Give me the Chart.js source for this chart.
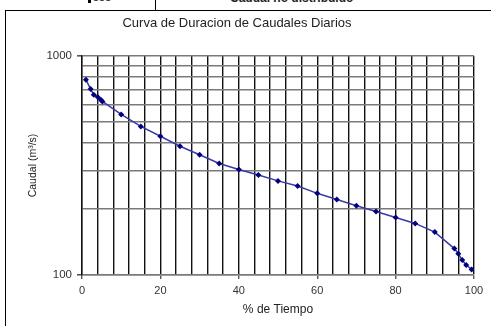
<!DOCTYPE html>
<html>
<head>
<meta charset="utf-8">
<script src="https://cdn.jsdelivr.net/npm/chart.js@4"></script>
<style>
  html, body { margin: 0; padding: 0; background: #fff; }
  #wrap { position: relative; width: 491px; height: 326px; overflow: hidden; font-family: "Liberation Sans", Arial, sans-serif; }
  #frame { position: absolute; left: 5px; top: 10px; width: 600px; height: 400px; border-left: 1.5px solid #000; border-top: 1.5px solid #000; }
  #cell { position: absolute; left: 155px; top: 0; height: 10px; border-left: 1px solid #000; }
  #head1 { position: absolute; left: 88px; top: -9px; font-size: 11px; border-left: 3px solid #000; padding-left: 2px; color: #222; }
  #head2 { position: absolute; left: 230px; top: -9px; font-size: 12px; font-weight: bold; color: #222; }
  canvas { position: absolute; left: 0; top: 0; }
</style>
</head>
<body>
<div id="wrap">
  <div id="frame"></div>
  <div id="cell"></div>
  <div id="head1">888</div>
  <div id="head2">Caudal no distribuido</div>
  <canvas id="durChart" width="491" height="326"></canvas>
</div>
<script>
// Datos
const pctTiempo = [1, 2.2, 3, 4, 4.8, 5.2, 10, 15, 20, 25, 30, 35, 40, 45, 50, 55, 60, 65, 70, 75, 80, 85, 90, 95, 96, 97, 98, 99.4];
const caudal = [780, 706, 665, 649, 631, 620, 541, 477, 430, 387, 354, 323, 303, 286, 269, 255, 236, 221, 207, 195, 183, 172, 157, 132, 125, 117, 111, 106];
const xTickLabels = [0, 20, 40, 60, 80, 100];
const yTickLabels = [100, 1000];
const yGridValues = [100, 200, 300, 400, 500, 600, 700, 800, 900, 1000];

const ctx = document.getElementById('durChart').getContext('2d');
new Chart(ctx, {
  type: 'line',
  data: {
    datasets: [{
      label: 'Caudal',
      data: pctTiempo.map((p, i) => ({ x: p, y: caudal[i] })),
      borderColor: '#3a3aa6',
      borderWidth: 1.5,
      backgroundColor: '#000080',
      pointStyle: 'rectRot',
      pointRadius: 3,
      pointBorderWidth: 0,
      tension: 0
    }]
  },
  options: {
    responsive: false,
    animation: false,
    layout: { padding: { left: 0, top: 10, right: 17, bottom: 0 } },
    plugins: {
      legend: { display: false },
      tooltip: { enabled: false },
      title: {
        display: true,
        text: 'Curva de Duracion de Caudales Diarios',
        color: '#222',
        font: { family: 'Liberation Sans', size: 13, weight: 'normal' },
        padding: { top: 5.2, bottom: 25.2 }
      }
    },
    scales: {
      x: {
        type: 'linear',
        min: 0,
        max: 100,
        afterFit: s => { s.height = 51; },
        ticks: {
          stepSize: 4,
          autoSkip: false,
          maxRotation: 0,
          padding: 5,
          color: '#333',
          font: { family: 'Liberation Sans', size: 11 },
          callback: v => xTickLabels.includes(v) ? String(v) : ''
        },
        grid: {
          color: '#111',
          lineWidth: 1.4,
          tickLength: 4,
          tickColor: c => xTickLabels.includes(c.tick && c.tick.value) ? '#555' : 'rgba(0,0,0,0)'
        },
        border: { color: '#7a7a7a', width: 1.6 },
        title: {
          display: true,
          text: '% de Tiempo',
          color: '#222',
          font: { family: 'Liberation Sans', size: 12 },
          padding: { top: 0, bottom: 8.8 }
        }
      },
      y: {
        type: 'logarithmic',
        min: 100,
        max: 1000,
        afterFit: s => { s.width = 82; },
        afterBuildTicks: s => { s.ticks = yGridValues.map(v => ({ value: v })); },
        ticks: {
          autoSkip: false,
          padding: 5,
          color: '#333',
          font: { family: 'Liberation Sans', size: 11.5 },
          callback: v => yTickLabels.includes(v) ? String(v) : ''
        },
        grid: {
          color: '#7a7a7a',
          lineWidth: 1.6,
          tickLength: 5,
          tickColor: c => yTickLabels.includes(c.tick && c.tick.value) ? '#555' : 'rgba(0,0,0,0)'
        },
        border: { color: '#111', width: 1.4 },
        title: {
          display: true,
          text: 'Caudal (m³/s)',
          color: '#222',
          font: { family: 'Liberation Sans', size: 10.5 },
          padding: { top: 27, bottom: 0 }
        }
      }
    }
  }
});
</script>
</body>
</html>
